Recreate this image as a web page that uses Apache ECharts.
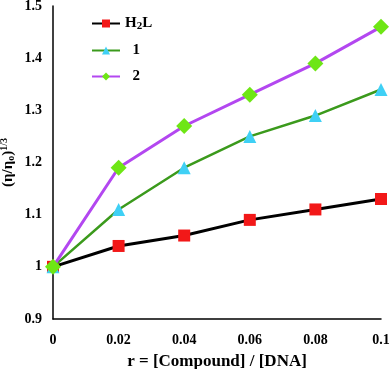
<!DOCTYPE html>
<html>
<head>
<meta charset="utf-8">
<script src="https://cdn.jsdelivr.net/npm/echarts@6/dist/echarts.min.js"></script>
<style>
  html, body { margin: 0; padding: 0; background: #fff; }
  #chart { width: 392px; height: 369px; }
</style>
</head>
<body>
<div id="chart"></div>
<script>
// ratio r = [Compound]/[DNA]
const ratios = [0, 0.02, 0.04, 0.06, 0.08, 0.1]
const h2lValues = [1.0, 1.04, 1.06, 1.09, 1.11, 1.13]
const comp1Values = [1.0, 1.11, 1.19, 1.25, 1.29, 1.34]
const comp2Values = [1.0, 1.19, 1.27, 1.33, 1.39, 1.46]
const seriesNames = ['H2L', '1', '2']

const font = 'Liberation Serif'
const pairs = vals => ratios.map((r, i) => [r, vals[i]])

const chart = echarts.init(document.getElementById('chart'))
chart.setOption({
  animation: false,
  grid: { left: 53, right: 11, top: 6, bottom: 50, outerBoundsMode: 'none' },
  legend: {
    orient: 'vertical',
    left: 86,
    top: 11,
    itemWidth: 28,
    itemHeight: 10,
    itemGap: 11,
    data: seriesNames,
    formatter: name => name === 'H2L' ? '{b|H}{s|2}{b|L}' : '{b|  ' + name + '}',
    textStyle: {
      rich: {
        b: { fontFamily: font, fontWeight: 'bold', fontSize: 15, color: '#000' },
        s: { fontFamily: font, fontWeight: 'bold', fontSize: 11, color: '#000', padding: [6, 0, 0, 0] }
      }
    }
  },
  xAxis: {
    type: 'value',
    min: 0,
    max: 0.1,
    interval: 0.02,
    name: 'r = [Compound] / [DNA]',
    nameLocation: 'middle',
    nameGap: 34,
    nameMoveOverlap: false,
    nameTextStyle: { fontFamily: font, fontWeight: 'bold', fontSize: 17, color: '#000' },
    axisLine: { lineStyle: { color: '#000', width: 1.5 } },
    axisTick: { show: false },
    splitLine: { show: false },
    axisLabel: { fontFamily: font, fontWeight: 'bold', fontSize: 14, color: '#000', margin: 14 }
  },
  yAxis: {
    type: 'value',
    min: 0.9,
    max: 1.5,
    interval: 0.1,
    name: '{b|(η/η}{s|o}{b|)}{p|1/3}',
    nameLocation: 'middle',
    nameRotate: 90,
    nameGap: 36,
    nameMoveOverlap: false,
    nameTextStyle: {
      rich: {
        b: { fontFamily: font, fontWeight: 'bold', fontSize: 15, color: '#000' },
        s: { fontFamily: font, fontWeight: 'bold', fontSize: 10, color: '#000', padding: [6, 0, 0, 0] },
        p: { fontFamily: font, fontWeight: 'bold', fontSize: 10, color: '#000', padding: [0, 0, 8, 0] }
      }
    },
    axisLine: { show: true, lineStyle: { color: '#000', width: 1.5 } },
    axisTick: { show: false },
    splitLine: { show: false },
    axisLabel: {
      fontFamily: font, fontWeight: 'bold', fontSize: 14, color: '#000', margin: 11,
      formatter: v => +v.toFixed(1) + ''
    }
  },
  series: [
    {
      name: 'H2L',
      type: 'line',
      data: pairs(h2lValues),
      symbol: 'rect',
      symbolSize: 12,
      lineStyle: { color: '#000', width: 3 },
      itemStyle: { color: '#f21818' },
      z: 2
    },
    {
      name: '1',
      type: 'line',
      data: pairs(comp1Values),
      symbol: 'triangle',
      symbolSize: 13,
      lineStyle: { color: '#3b9a1c', width: 2.5 },
      itemStyle: { color: '#3fd0f5' },
      z: 3
    },
    {
      name: '2',
      type: 'line',
      data: pairs(comp2Values),
      symbol: 'diamond',
      symbolSize: 16,
      lineStyle: { color: '#b347f0', width: 3 },
      itemStyle: { color: '#6ee615' },
      z: 4
    }
  ]
})
</script>
</body>
</html>
